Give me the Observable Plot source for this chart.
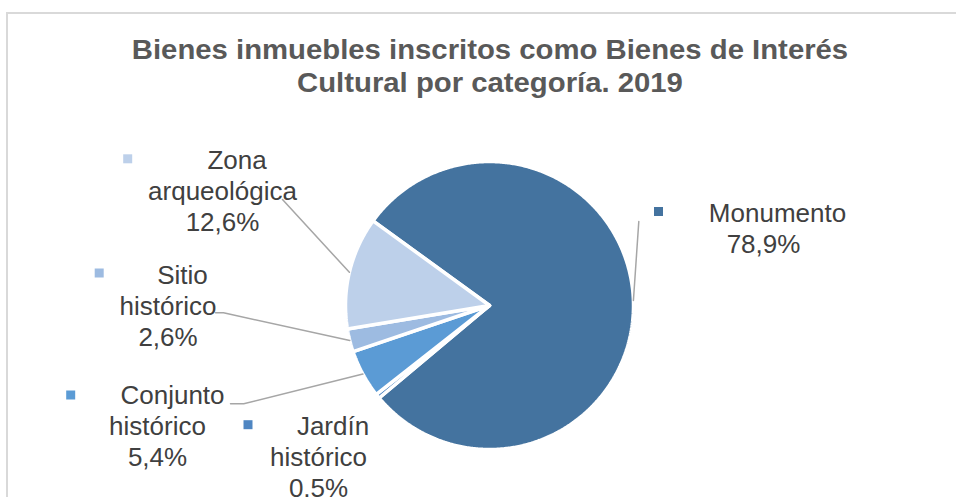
<!DOCTYPE html>
<html>
<head>
<meta charset="utf-8">
<script src="https://cdn.jsdelivr.net/npm/d3@7"></script>
<script src="https://cdn.jsdelivr.net/npm/@observablehq/plot@0.6"></script>
<style>
  html, body { margin: 0; padding: 0; background: #fff; overflow: hidden; }
  #wrap { position: relative; width: 956px; height: 497px; overflow: hidden; }
  #frame { position: absolute; left: 6px; top: 12px; width: 1100px; height: 700px; border: 2px solid #d9d9d9; box-sizing: border-box; }
  #title { position: absolute; left: 0; top: 33.5px; width: 980px; text-align: center; font-family: "Liberation Sans", Arial, sans-serif; font-weight: bold; font-size: 27px; line-height: 33px; color: #595959; transform: scaleX(1.085); transform-origin: 490px 0; }
  #chart { position: absolute; left: 0; top: 0; }
</style>
</head>
<body>
<div id="wrap">
  <div id="frame"></div>
  <div id="chart"></div>
  <div id="title">Bienes inmuebles inscritos como Bienes de Interés<br>Cultural por categoría. 2019</div>
</div>
<script>
// ---- data ----
const categories = ["Monumento", "Jardín histórico", "Conjunto histórico", "Sitio histórico", "Zona arqueológica"];
const values = [78.9, 0.5, 5.4, 2.6, 12.6];
const nameLines = [["Monumento"], ["Jardín", "histórico"], ["Conjunto", "histórico"], ["Sitio", "histórico"], ["Zona", "arqueológica"]];
const colors = ["#44739f", "#4f86c2", "#5b9bd5", "#9dbbe1", "#bdd0ea"];

// ---- layout ----
const W = 956, H = 497;
const cx = 489, cy = 305, R = 144;
const firstSliceAngle = 306; // degrees, clockwise from 12 o'clock
const fontSize = 26, lineH = 31;
// label block: [centre of line 1, centre of other lines, baseline of line 1, marker x, marker y]
const labelLayout = [
  [777, 763, 221, 658, 211],
  [332.5, 318, 434, 247.5, 424.2],
  [172, 157, 403.3, 70.2, 394.5],
  [182, 167.5, 283.3, 98.7, 272.5],
  [236.5, 222, 168, 127.2, 158.3]
];
// leader line start points (label side)
const leaderStarts = [
  [[638.3, 221]],
  [],
  [[230, 403.3], [243.3, 403.3]],
  [[215, 312.3], [223, 312.3]],
  [[282, 199]]
];

const fmt = v => v.toFixed(1).replace(".", ",") + "%";
const rad = Math.PI / 180;

const pie = d3.pie().sort(null).value(d => d.value)
  .startAngle(firstSliceAngle * rad).endAngle((firstSliceAngle + 360) * rad);
const rows = categories.map((c, i) => ({name: c, value: values[i], i}));
const arcs = pie(rows);

const pt = (a, r) => [cx + Math.sin(a) * r, cy - Math.cos(a) * r];

// slice polygons
const slicePts = [];
arcs.forEach(a => {
  const n = Math.max(2, Math.ceil((a.endAngle - a.startAngle) / (0.5 * rad)));
  slicePts.push({name: a.data.name, x: cx, y: cy});
  for (let k = 0; k <= n; k++) {
    const ang = a.startAngle + (a.endAngle - a.startAngle) * k / n;
    const [x, y] = pt(ang, R);
    slicePts.push({name: a.data.name, x, y});
  }
  slicePts.push({name: a.data.name, x: cx, y: cy});
});

// leader lines
const leaderPts = [];
arcs.forEach((a, i) => {
  if (!leaderStarts[i].length) return;
  leaderStarts[i].forEach(([x, y]) => leaderPts.push({name: a.data.name, x, y}));
  const [mx, my] = pt((a.startAngle + a.endAngle) / 2, R);
  leaderPts.push({name: a.data.name, x: mx, y: my});
});

// label text lines
const textRows = [];
categories.forEach((c, i) => {
  const lines = [...nameLines[i], fmt(values[i])];
  const [c1, c2, b1] = labelLayout[i];
  lines.forEach((t, k) => {
    const base = b1 + k * lineH;
    textRows.push({text: t, x: k === 0 ? c1 : c2, y: base - 0.32 * fontSize});
  });
});
const markers = categories.map((c, i) => ({name: c, x: labelLayout[i][3], y: labelLayout[i][4]}));

const chart = Plot.plot({
  width: W, height: H,
  margin: 0,
  style: {background: "transparent", fontFamily: "'Liberation Sans', Arial, sans-serif"},
  x: {domain: [0, W], range: [0, W], axis: null},
  y: {domain: [0, H], range: [0, H], axis: null},
  color: {domain: categories, range: colors},
  marks: [
    Plot.line(slicePts, {x: "x", y: "y", z: "name", fill: "name", stroke: "white", strokeWidth: 3.5, strokeLinejoin: "miter", curve: "linear"}),
    Plot.line(leaderPts, {x: "x", y: "y", z: "name", stroke: "#a6a6a6", strokeWidth: 1.5}),
    Plot.dot(markers, {x: "x", y: "y", fill: "name", symbol: "square", r: Math.sqrt(81 / Math.PI), stroke: null}),
    Plot.text(textRows, {x: "x", y: "y", text: "text", fontSize, fill: "#404040", textAnchor: "middle", lineAnchor: "middle"})
  ]
});
document.getElementById("chart").appendChild(chart);
</script>
</body>
</html>
